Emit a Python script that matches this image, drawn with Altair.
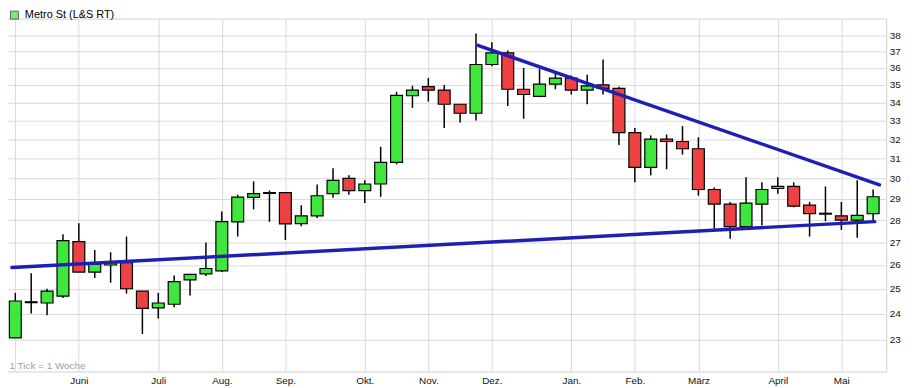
import altair as alt
import pandas as pd

FONT = "Liberation Sans"
GREEN = "#3ee63e"
RED = "#ee4242"
BLUE = "#1f1fb4"

series_name = "Metro St (L&S RT)"
first_week = "2013-04-29"  # Monday of week index 0

# weekly OHLC, week index 0..54
opens = [23.05, 24.45, 24.42, 24.70, 27.02, 25.70, 26.00, 26.10, 24.90, 24.22,
         24.37, 25.37, 25.62, 25.75, 27.92, 29.07, 29.28, 29.30, 27.84, 28.20,
         29.25, 30.00, 29.40, 29.72, 30.80, 34.38, 34.90, 34.70, 33.90, 33.40,
         36.20, 36.90, 34.75, 34.35, 35.05, 35.40, 34.70, 35.00, 34.80, 32.35,
         30.55, 32.00, 31.88, 31.50, 29.45, 28.75, 27.70, 28.75, 29.50, 29.60,
         28.70, 28.30, 28.20, 28.00, 28.30]
highs = [24.83, 25.65, 25.00, 27.35, 27.85, 26.65, 26.55, 27.25, 24.90, 24.83,
         25.55, 25.60, 26.98, 28.40, 29.20, 29.85, 29.40, 29.30, 28.70, 29.70,
         30.50, 30.15, 29.90, 31.60, 34.60, 34.95, 35.40, 35.00, 33.90, 38.10,
         37.55, 37.05, 36.00, 35.95, 35.75, 35.55, 35.60, 36.50, 34.90, 32.60,
         32.20, 32.25, 32.70, 32.10, 29.55, 28.85, 30.05, 29.80, 30.05, 29.80,
         28.85, 29.60, 28.85, 29.90, 29.45]
lows = [23.05, 24.00, 23.93, 24.62, 25.70, 25.45, 25.25, 24.80, 23.20, 23.80,
        24.25, 24.72, 25.53, 25.70, 27.25, 28.50, 27.92, 27.10, 27.72, 28.10,
        29.05, 29.20, 28.80, 29.10, 30.70, 33.70, 34.05, 32.60, 32.90, 33.00,
        36.10, 33.80, 33.10, 34.30, 34.75, 34.45, 33.90, 34.45, 31.70, 29.80,
        30.15, 30.45, 31.20, 29.15, 27.60, 27.15, 27.70, 27.75, 29.25, 28.60,
        27.25, 27.95, 27.55, 27.20, 28.00]
closes = [24.50, 24.45, 24.90, 27.07, 25.70, 26.04, 26.12, 25.00, 24.20, 24.42,
          25.30, 25.60, 25.85, 27.93, 29.08, 29.25, 29.28, 27.83, 28.20, 29.15,
          29.90, 29.40, 29.72, 30.80, 34.40, 34.70, 34.70, 33.90, 33.40, 36.20,
          36.90, 34.75, 34.45, 35.05, 35.40, 34.70, 34.95, 34.80, 32.35, 30.55,
          32.00, 31.88, 31.50, 29.45, 28.75, 27.70, 28.80, 29.45, 29.60, 28.65,
          28.30, 28.30, 28.00, 28.22, 29.10]

# month grid positions (week index) and labels
month_weeks = [0, 4, 9, 13, 17, 22, 26, 30, 35, 39, 43, 48, 52]
month_labels = ["", "Juni", "Juli", "Aug.", "Sep.", "Okt.", "Nov.", "Dez.",
                "Jan.", "Feb.", "März", "April", "Mai"]

price_ticks = list(range(23, 39))

# hand-drawn trend lines (week index, price)
trend_names = ["upper", "upper", "lower", "lower"]
trend_weeks = [29.12, 54.40, -0.21, 54.10]
trend_prices = [37.36, 29.68, 25.89, 27.93]

df = pd.DataFrame({
    "week": list(range(len(opens))),
    "open": opens, "high": highs, "low": lows, "close": closes,
})
trend_df = pd.DataFrame({"name": trend_names, "week": trend_weeks, "price": trend_prices})
legend_df = pd.DataFrame({"series": [series_name]})

labels_js = "[" + ",".join("'" + l + "'" for l in month_labels) + "]"
weeks_js = "[" + ",".join(str(w) for w in month_weeks) + "]"

x_scale = alt.Scale(domain=[-0.46, 54.51], nice=False, zero=False)
y_scale = alt.Scale(type="log", domain=[21.81, 39.05], nice=False, zero=False)

x_enc = alt.X(
    "week:Q", scale=x_scale,
    axis=alt.Axis(
        values=month_weeks, labelExpr=labels_js + "[indexof(" + weeks_js + ", datum.value)]",
        grid=True, ticks=False, domain=False, labelPadding=4, labelFlush=False,
        labelOverlap=False,
        title="1 Tick = 1 Woche", titleX=6, titleY=-6, titleAnchor="start",
        titleAlign="left", titleBaseline="middle", titleColor="#a0a0a0",
        titleFontWeight="normal", titleFontSize=10, titleFont=FONT,
    ),
)
y_axis = alt.Axis(values=price_ticks, format="d", orient="right", grid=True, ticks=False,
                  domain=False, labelPadding=3, title=None)

base = alt.Chart(df)
wicks = base.mark_rule(color="black", strokeWidth=1.5).encode(
    x=x_enc,
    y=alt.Y("low:Q", scale=y_scale, axis=y_axis),
    y2="high:Q",
)
bodies = base.mark_bar(width=12, stroke="black", strokeWidth=1.2).encode(
    x=alt.X("week:Q"),
    y=alt.Y("open:Q", title=None),
    y2="close:Q",
    fill=alt.condition("datum.close >= datum.open", alt.value(GREEN), alt.value(RED)),
)
dojis = base.transform_filter("datum.open == datum.close").mark_tick(
    orient="horizontal", size=13, thickness=2, color="black", opacity=1
).encode(
    x=alt.X("week:Q"),
    y=alt.Y("open:Q", title=None),
)
trends = alt.Chart(trend_df).mark_line(color=BLUE, strokeWidth=3.5, strokeCap="round").encode(
    x=alt.X("week:Q"),
    y=alt.Y("price:Q", title=None),
    detail="name:N",
)
legend_layer = alt.Chart(legend_df).mark_square(size=64).encode(
    x=alt.value(-60), y=alt.value(-60),
    fill=alt.Fill("series:N", scale=alt.Scale(range=[GREEN]),
                  legend=alt.Legend(title=None, orient="none", legendX=6, legendY=-9,
                                    symbolType="square", symbolSize=64,
                                    symbolStrokeColor="#222", symbolStrokeWidth=1,
                                    labelFont=FONT, labelFontSize=11, labelColor="#000",
                                    padding=0, labelOffset=5)),
)

chart = alt.layer(wicks, bodies, dojis, trends, legend_layer).properties(
    width=891, height=356,
    padding={"left": -5, "top": 9, "right": 20, "bottom": 16},
    autosize=alt.AutoSizeParams(type="none"),
    background="white",
).configure_view(
    stroke="#cfcfcf", strokeWidth=1,
).configure_axis(
    gridColor="#dadada", gridWidth=1, labelFont=FONT, labelFontSize=10, labelColor="#111",
)

chart.save("out.html", embed_options={"renderer": "svg", "actions": False})
